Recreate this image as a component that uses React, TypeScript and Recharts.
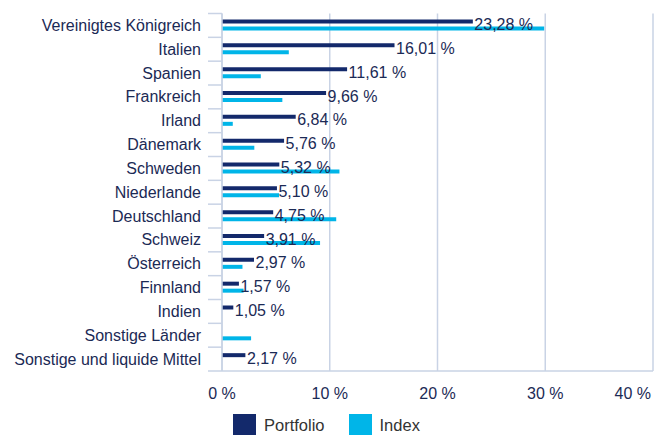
import React from 'react'
import {
  BarChart,
  Bar,
  XAxis,
  YAxis,
  CartesianGrid,
  LabelList,
} from 'recharts'

const countries = [
  'Vereinigtes Königreich',
  'Italien',
  'Spanien',
  'Frankreich',
  'Irland',
  'Dänemark',
  'Schweden',
  'Niederlande',
  'Deutschland',
  'Schweiz',
  'Österreich',
  'Finnland',
  'Indien',
  'Sonstige Länder',
  'Sonstige und liquide Mittel',
]

const portfolio = [
  23.28, 16.01, 11.61, 9.66, 6.84, 5.76, 5.32, 5.1, 4.75, 3.91, 2.97, 1.57,
  1.05, null, 2.17,
]

const indexValues = [
  29.9, 6.2, 3.6, 5.6, 1.0, 3.0, 10.9, 5.3, 10.6, 9.1, 1.9, 2.0, 0, 2.7, 0,
]

const xTicks = [0, 10, 20, 30, 40]

const NAVY = '#13296b'
const CYAN = '#00b5e8'
const GRID = '#c9d3e5'
const TEXT = '#1b2a55'
const FONT = 'Liberation Sans, Arial, sans-serif'

const WIDTH = 665
const HEIGHT = 435
const MARGIN = { top: 13.5, right: 12, left: 0, bottom: 34 }
const X_AXIS_H = 30
const BAND =
  (HEIGHT - MARGIN.top - MARGIN.bottom - X_AXIS_H) / countries.length

const data = countries.map((c, i) => ({
  name: c,
  portfolio: portfolio[i],
  index: indexValues[i],
}))

const fmt = (v: number) => v.toFixed(2).replace('.', ',') + ' %'

function CountryTick(props: any) {
  const { x, y, payload, index } = props
  return (
    <g>
      <text
        x={x - 21}
        y={y + 5.5}
        textAnchor='end'
        fontSize={16}
        fill={TEXT}
        fontFamily={FONT}
      >
        {payload.value}
      </text>
      <line
        x1={x - 14}
        x2={x}
        y1={y + BAND / 2}
        y2={y + BAND / 2}
        stroke={GRID}
        strokeWidth={1.5}
      />
      {index === 0 && (
        <line
          x1={x - 14}
          x2={x}
          y1={y - BAND / 2}
          y2={y - BAND / 2}
          stroke={GRID}
          strokeWidth={1.5}
        />
      )}
    </g>
  )
}

function PercentTick(props: any) {
  const { x, y, payload, index } = props
  const last = index === xTicks.length - 1
  return (
    <text
      x={last ? x - 2 : x}
      y={y + 27.5}
      textAnchor={last ? 'end' : 'middle'}
      fontSize={16}
      fill={TEXT}
      fontFamily={FONT}
    >
      {payload.value + ' %'}
    </text>
  )
}

function ValueLabel(props: any) {
  const { x, y, width, height, value } = props
  if (value == null) return null
  return (
    <text
      x={x + width + 1.5}
      y={y + height / 2 + 8.5}
      fontSize={16}
      fill={TEXT}
      fontFamily={FONT}
    >
      {fmt(value)}
    </text>
  )
}

function LegendItem({ color, label }: { color: string; label: string }) {
  return (
    <div style={{ display: 'flex', alignItems: 'center', marginRight: 24 }}>
      <div
        style={{ width: 23, height: 22, background: color, marginRight: 8 }}
      />
      <span style={{ fontSize: 16.5, color: '#333' }}>{label}</span>
    </div>
  )
}

export default function App() {
  return (
    <div
      style={{
        position: 'absolute',
        left: 0,
        top: 0,
        width: WIDTH,
        height: HEIGHT,
        background: '#fff',
        overflow: 'hidden',
        fontFamily: FONT,
      }}
    >
      <BarChart
        width={WIDTH}
        height={HEIGHT}
        data={data}
        layout='vertical'
        margin={MARGIN}
        barSize={4}
        barGap={3}
      >
        <CartesianGrid horizontal={false} stroke={GRID} strokeWidth={1.5} />
        <XAxis
          type='number'
          domain={[0, 40]}
          ticks={xTicks}
          height={X_AXIS_H}
          axisLine={{ stroke: GRID, strokeWidth: 1.5 }}
          tickLine={false}
          tickSize={0}
          tickMargin={0}
          tick={<PercentTick />}
          interval={0}
        />
        <YAxis
          type='category'
          dataKey='name'
          width={222}
          axisLine={{ stroke: GRID, strokeWidth: 1.5 }}
          tickLine={false}
          tickSize={0}
          tickMargin={0}
          tick={<CountryTick />}
          interval={0}
        />
        <Bar dataKey='portfolio' fill={NAVY} isAnimationActive={false}>
          <LabelList dataKey='portfolio' content={<ValueLabel />} />
        </Bar>
        <Bar dataKey='index' fill={CYAN} isAnimationActive={false} />
      </BarChart>
      <div
        style={{
          position: 'absolute',
          left: 233,
          top: 414,
          display: 'flex',
        }}
      >
        <LegendItem color={NAVY} label='Portfolio' />
        <LegendItem color={CYAN} label='Index' />
      </div>
    </div>
  )
}
